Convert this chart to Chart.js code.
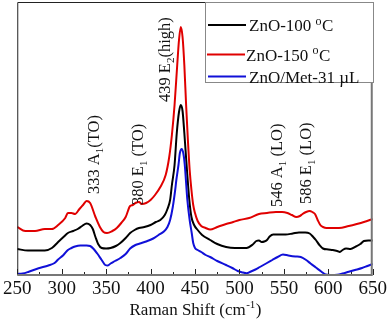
<!DOCTYPE html>
<html>
<head>
<meta charset="utf-8">
<script src="https://cdn.jsdelivr.net/npm/chart.js@4.4.0/dist/chart.umd.min.js"></script>
<style>
  html, body { margin: 0; padding: 0; background: #fff; }
  #wrap { width: 390px; height: 325px; position: relative; }
</style>
</head>
<body>
<div id="wrap"><canvas id="raman"></canvas></div>
<script>
// Raman shift (cm-1) and intensity (a.u., stacked)
const shift150 = [250, 259, 270, 281, 289, 296, 304, 307, 311, 315, 320, 324, 328, 332, 338, 343, 347, 351, 357, 362, 367, 372, 377, 380, 383, 387, 390, 395, 400, 405, 411, 417, 421, 424, 427, 430, 432, 434, 436, 438, 440, 442, 444, 446, 448, 450, 453, 457, 462, 467, 475, 485, 493, 500, 511, 522, 531, 541, 548, 554, 559, 564, 568, 571, 575, 579, 582, 585, 588, 591, 594, 598, 604, 612, 623, 632, 640, 650];
const zno150 = [48, 44, 44, 46, 46, 50, 57, 62, 62, 61, 66, 70, 74, 72, 58, 48, 43, 42, 44, 47, 52, 58, 69, 70, 72, 73, 71, 72, 75, 80, 88, 100, 118, 140, 170, 210, 235, 248, 238, 210, 170, 135, 105, 85, 70, 62, 54, 49, 47, 45.5, 48, 51, 53, 55, 57, 61, 62, 63, 63, 62, 60, 58, 59, 61, 63, 64, 63, 61, 55, 50, 48, 47, 47, 47, 49, 51, 53, 56];

const shift100 = [250, 262, 270, 281, 289, 296, 302, 307, 313, 318, 323, 328, 332, 335, 338, 341, 345, 350, 355, 361, 366, 372, 377, 382, 387, 393, 400, 406, 411, 416, 419, 422, 424, 427, 429.5, 432, 434, 436, 438, 440.7, 443.6, 446, 449, 453, 458, 467, 475, 485, 495, 508, 515, 519, 522, 525, 528, 531, 534, 538, 545, 552, 560, 567, 574, 579, 583, 586, 590, 594, 600, 605, 610, 613, 616, 620, 625, 631, 636, 640, 645, 650];
const zno100 = [26, 24.5, 24.5, 24.5, 27, 33, 38, 42, 44, 46, 49, 51.5, 50, 46, 38, 31, 27, 26.5, 27, 29, 32, 37, 42, 45, 47, 48, 50, 53, 55, 60, 66, 75, 90, 110, 142, 163, 170, 164, 142, 108, 75, 58, 50, 45, 40, 35, 31, 28, 27, 27, 30.5, 34, 34.5, 33, 33.5, 35, 38.5, 40.5, 40.5, 40.5, 41.5, 42.5, 42.5, 41.5, 38, 35, 30, 26.5, 25.5, 25, 24, 23, 25, 26.5, 26, 28.5, 31, 34, 34.5, 34.5];

const shiftMet = [250, 256, 263, 274, 285, 292, 296, 302, 307, 311, 315, 321, 328, 332, 336, 340, 345, 349, 352, 355, 360, 366, 372, 377, 383, 388, 395, 403, 409, 415, 419, 422, 425, 427.7, 429, 431.4, 433, 435, 437, 438.5, 440, 441.4, 444, 446.3, 448, 450, 453, 457, 462, 467, 475, 485, 492, 498, 504, 508, 513, 518, 523, 530, 537, 543, 549, 555, 563, 569, 575, 580, 586, 592, 597, 603, 610, 616, 623, 630, 638, 644, 650];
const znoMet = [1, 1.5, 3.3, 6.7, 9.5, 12, 15.5, 20, 25, 27, 28.5, 29.5, 29.5, 29, 26, 21.5, 15, 10, 9.5, 11.5, 14, 17, 21, 26.5, 30, 31.5, 33.5, 36.5, 40, 43.5, 48, 55, 68, 85, 95, 110, 122, 126, 121, 110, 92, 75, 55, 42, 32, 27, 25, 23, 20, 18, 14, 10, 7, 4, 2.5, 1.7, 3.5, 5.5, 8, 11.5, 15, 18, 20.5, 19.5, 18.5, 18, 15, 11.5, 7.5, 3.5, 0.5, 0, 0.3, 1.5, 3.3, 5, 7, 9, 11];

const majorTicks = [250, 300, 350, 400, 450, 500, 550, 600, 650];
const minorTicks = [275, 325, 375, 425, 475, 525, 575, 625];

const seriesNames = ['ZnO-100 ', 'ZnO-150 ', 'ZnO/Met-31 \u00b5L'];
const seriesColors = ['#000000', '#e00000', '#1010d8'];

// phonon mode labels: shift where the text sits, intensity where it starts
const modeMain = ['333 A', '380 E', '439 E', '546 A', '586 E'];
const modeSub = ['1', '1', '2', '1', '1'];
const modeTail = ['(TO)', ' (TO)', '(high)', ' (LO)', ' (LO)'];
const modeShift = [342, 391.5, 422, 548, 580];
const modeStart = [81, 70, 173, 68, 71];

const serif = '"Liberation Serif", "Times New Roman", serif';

function toPoints(xs, ys) {
  return xs.map((x, i) => ({ x: x, y: ys[i] }));
}

const decorations = {
  id: 'decorations',
  afterDatasetsDraw(chart) {
    const { ctx, chartArea: a, scales: { x, y } } = chart;
    ctx.save();

    // inward ticks on the bottom axis
    ctx.strokeStyle = '#222';
    ctx.lineWidth = 1;
    majorTicks.concat(minorTicks).forEach(v => {
      const px = Math.round(x.getPixelForValue(v)) + 0.5;
      const len = majorTicks.includes(v) ? 6 : 3;
      ctx.beginPath();
      ctx.moveTo(px, a.bottom);
      ctx.lineTo(px, a.bottom - len);
      ctx.stroke();
    });

    // frame
    ctx.strokeStyle = '#222';
    ctx.lineWidth = 1;
    ctx.beginPath();
    ctx.moveTo(a.left + 0.5, a.bottom);
    ctx.lineTo(a.left + 0.5, a.top + 0.5);
    ctx.lineTo(a.right, a.top + 0.5);
    ctx.stroke();
    ctx.strokeStyle = '#777';
    ctx.lineWidth = 2;
    ctx.beginPath();
    ctx.moveTo(a.left, a.bottom);
    ctx.lineTo(a.right - 1, a.bottom);
    ctx.lineTo(a.right - 1, a.top);
    ctx.stroke();

    // rotated mode labels
    ctx.fillStyle = '#111';
    ctx.textAlign = 'left';
    ctx.textBaseline = 'alphabetic';
    modeMain.forEach((m, i) => {
      ctx.save();
      ctx.translate(x.getPixelForValue(modeShift[i]), y.getPixelForValue(modeStart[i]));
      ctx.rotate(-Math.PI / 2);
      ctx.font = '16.5px ' + serif;
      ctx.fillText(m, 0, 0);
      let w = ctx.measureText(m).width;
      ctx.font = '11px ' + serif;
      ctx.fillText(modeSub[i], w, 4);
      w += ctx.measureText(modeSub[i]).width;
      ctx.font = '16.5px ' + serif;
      ctx.fillText(modeTail[i], w, 0);
      ctx.restore();
    });

    // axis title
    ctx.font = '17px ' + serif;
    ctx.textBaseline = 'alphabetic';
    const t1 = 'Raman Shift (cm', t2 = '-1', t3 = ')';
    const w1 = ctx.measureText(t1).width, w3 = ctx.measureText(t3).width;
    ctx.font = '11px ' + serif;
    const w2 = ctx.measureText(t2).width;
    let tx = (a.left + a.right) / 2 - (w1 + w2 + w3) / 2;
    const ty = 315;
    ctx.font = '17px ' + serif;
    ctx.fillText(t1, tx, ty);
    ctx.font = '11px ' + serif;
    ctx.fillText(t2, tx + w1 + 0.5, ty - 7);
    ctx.font = '17px ' + serif;
    ctx.fillText(t3, tx + w1 + w2 + 1, ty);

    // legend box
    ctx.fillStyle = '#fff';
    ctx.fillRect(205, 2, 169, 81);
    ctx.strokeStyle = '#888';
    ctx.lineWidth = 1;
    ctx.strokeRect(205.5, 2.5, 168, 80);
    const rows = [25, 54.5, 76.5];
    const lineStart = [208, 207, 208];
    const lineEnd = [246, 245, 246];
    const textStart = [249, 246, 249];
    [0, 1, 2].forEach(i => {
      ctx.strokeStyle = seriesColors[i];
      ctx.lineWidth = 2;
      ctx.beginPath();
      ctx.moveTo(lineStart[i], rows[i]);
      ctx.lineTo(lineEnd[i], rows[i]);
      ctx.stroke();
      ctx.fillStyle = '#111';
      ctx.font = '17px ' + serif;
      ctx.textBaseline = 'alphabetic';
      const base = rows[i] + 6;
      ctx.fillText(seriesNames[i], textStart[i], base);
      if (i < 2) {
        const w = ctx.measureText(seriesNames[i]).width;
        ctx.font = '12px ' + serif;
        ctx.fillText('o', textStart[i] + w, base - 6.5);
        const wo = ctx.measureText('o').width;
        ctx.font = '17px ' + serif;
        ctx.fillText('C', textStart[i] + w + wo + 0.5, base);
      }
    });
    ctx.restore();
  }
};

new Chart(document.getElementById('raman'), {
  type: 'line',
  data: {
    datasets: [
      { label: 'ZnO/Met-31 \u00b5L', data: toPoints(shiftMet, znoMet), borderColor: seriesColors[2] },
      { label: 'ZnO-100 \u00b0C', data: toPoints(shift100, zno100), borderColor: seriesColors[0] },
      { label: 'ZnO-150 \u00b0C', data: toPoints(shift150, zno150), borderColor: seriesColors[1] }
    ]
  },
  options: {
    responsive: true,
    maintainAspectRatio: false,
    animation: false,
    layout: { padding: { left: 16, right: 16, top: 2, bottom: 0 } },
    elements: {
      point: { radius: 0 },
      line: { borderWidth: 2, cubicInterpolationMode: 'monotone', fill: false }
    },
    plugins: {
      legend: { display: false },
      tooltip: { enabled: false }
    },
    scales: {
      x: {
        type: 'linear',
        min: 250,
        max: 650,
        afterBuildTicks: s => { s.ticks = majorTicks.map(v => ({ value: v })); },
        afterFit: s => { s.height = 50; },
        grid: { display: false, drawTicks: false },
        border: { display: false },
        ticks: {
          font: { family: serif, size: 19 },
          color: '#111',
          padding: 3,
          maxRotation: 0,
          autoSkip: false
        }
      },
      y: {
        display: false,
        min: 0,
        max: 273
      }
    }
  },
  plugins: [decorations]
});
</script>
</body>
</html>
